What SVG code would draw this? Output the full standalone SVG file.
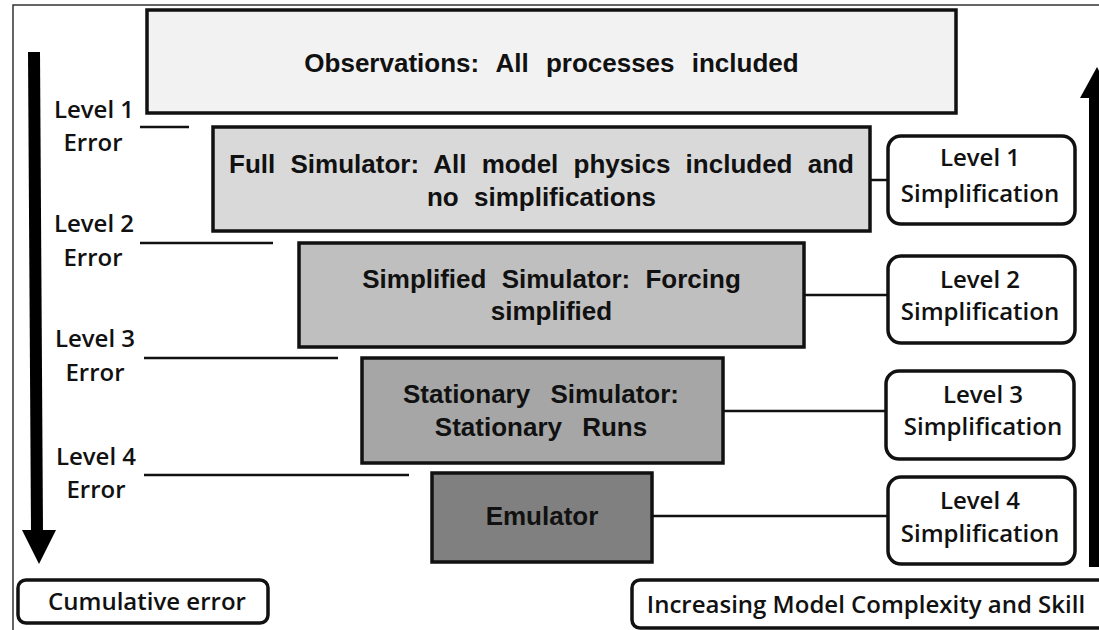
<svg xmlns="http://www.w3.org/2000/svg" width="1099" height="630" viewBox="0 0 1099 630">
<style>
.box{stroke:#111;stroke-width:3.5}
.main{font-family:"Liberation Sans",Arial,sans-serif;font-weight:bold;font-size:26px;fill:#111;text-anchor:middle;word-spacing:8px}
.lab{font-family:"Open Sans","Noto Sans",sans-serif;font-weight:600;font-size:24px;fill:#111;text-anchor:middle}
.rbox{fill:#fff;stroke:#111;stroke-width:3.5}
.conn{stroke:#111;stroke-width:2.5;fill:none}
</style>
<rect x="0" y="0" width="1099" height="630" fill="#fff"/>
<g id="frame">
<path d="M13 630 V5 H1099" fill="none" stroke="#333" stroke-width="1.5"/>
</g>
<g id="connectors">
<line class="conn" x1="870" y1="180" x2="888" y2="180"/>
<line class="conn" x1="804" y1="295" x2="888" y2="295"/>
<line class="conn" x1="723" y1="411" x2="886" y2="411"/>
<line class="conn" x1="652" y1="516" x2="888" y2="516"/>
<line class="conn" x1="140" y1="127" x2="189" y2="127"/>
<line class="conn" x1="140" y1="243" x2="273" y2="243"/>
<line class="conn" x1="144" y1="358" x2="338" y2="358"/>
<line class="conn" x1="144" y1="475" x2="409" y2="475"/>
</g>
<g id="observations">
<rect class="box" x="147" y="10" width="809" height="103" fill="#f2f2f2"/>
<text class="main" x="551.5" y="72" style="word-spacing:10px">Observations: All processes included</text>
</g>
<g id="full-simulator">
<rect class="box" x="213" y="127" width="657" height="104" fill="#d9d9d9"/>
<text class="main" x="541.5" y="173">Full Simulator: All model physics included and</text>
<text class="main" x="541.5" y="206">no simplifications</text>
</g>
<g id="simplified-simulator">
<rect class="box" x="299" y="243" width="505" height="104" fill="#bfbfbf"/>
<text class="main" x="551.5" y="288">Simplified Simulator: Forcing</text>
<text class="main" x="551.5" y="320">simplified</text>
</g>
<g id="stationary-simulator">
<rect class="box" x="362" y="358" width="361" height="105" fill="#a6a6a6"/>
<text class="main" x="541" y="403" style="word-spacing:13px">Stationary Simulator:</text>
<text class="main" x="541" y="436" style="word-spacing:13px">Stationary Runs</text>
</g>
<g id="emulator">
<rect class="box" x="432" y="473" width="220" height="89" fill="#808080"/>
<text class="main" x="542" y="525">Emulator</text>
</g>
<g id="simp1">
<rect class="rbox" x="888" y="136" width="187" height="88" rx="13"/>
<text class="lab" x="980" y="166">Level 1</text>
<text class="lab" x="980" y="202">Simplification</text>
</g>
<g id="simp2">
<rect class="rbox" x="888" y="256" width="187" height="87" rx="13"/>
<text class="lab" x="980" y="288">Level 2</text>
<text class="lab" x="980" y="320">Simplification</text>
</g>
<g id="simp3">
<rect class="rbox" x="886" y="371" width="188" height="88" rx="13"/>
<text class="lab" x="983" y="403">Level 3</text>
<text class="lab" x="983" y="435">Simplification</text>
</g>
<g id="simp4">
<rect class="rbox" x="888" y="477" width="187" height="87" rx="13"/>
<text class="lab" x="980" y="509">Level 4</text>
<text class="lab" x="980" y="542">Simplification</text>
</g>
<g id="error-labels">
<text class="lab" x="94" y="118">Level 1</text>
<text class="lab" x="93" y="151">Error</text>
<text class="lab" x="94" y="232">Level 2</text>
<text class="lab" x="93" y="266">Error</text>
<text class="lab" x="95" y="347">Level 3</text>
<text class="lab" x="95" y="381">Error</text>
<text class="lab" x="96" y="465">Level 4</text>
<text class="lab" x="96" y="498">Error</text>
</g>
<g id="cumulative-arrow">
<polygon points="28,52 40,52 43,532 31,532" fill="#000"/>
<polygon points="22,530 56,530 39,564" fill="#000"/>
</g>
<g id="complexity-arrow">
<rect x="1089" y="96" width="12" height="471" fill="#000"/>
<polygon points="1080,98 1114,98 1097,67" fill="#000"/>
</g>
<g id="cumulative-error">
<rect class="rbox" x="18" y="580" width="250" height="43" rx="8" stroke-width="3"/>
<text class="lab" x="147" y="610">Cumulative error</text>
</g>
<g id="complexity">
<rect class="rbox" x="632" y="580" width="480" height="48" rx="8" stroke-width="3"/>
<text class="lab" x="866" y="613">Increasing Model Complexity and Skill</text>
</g>
</svg>
